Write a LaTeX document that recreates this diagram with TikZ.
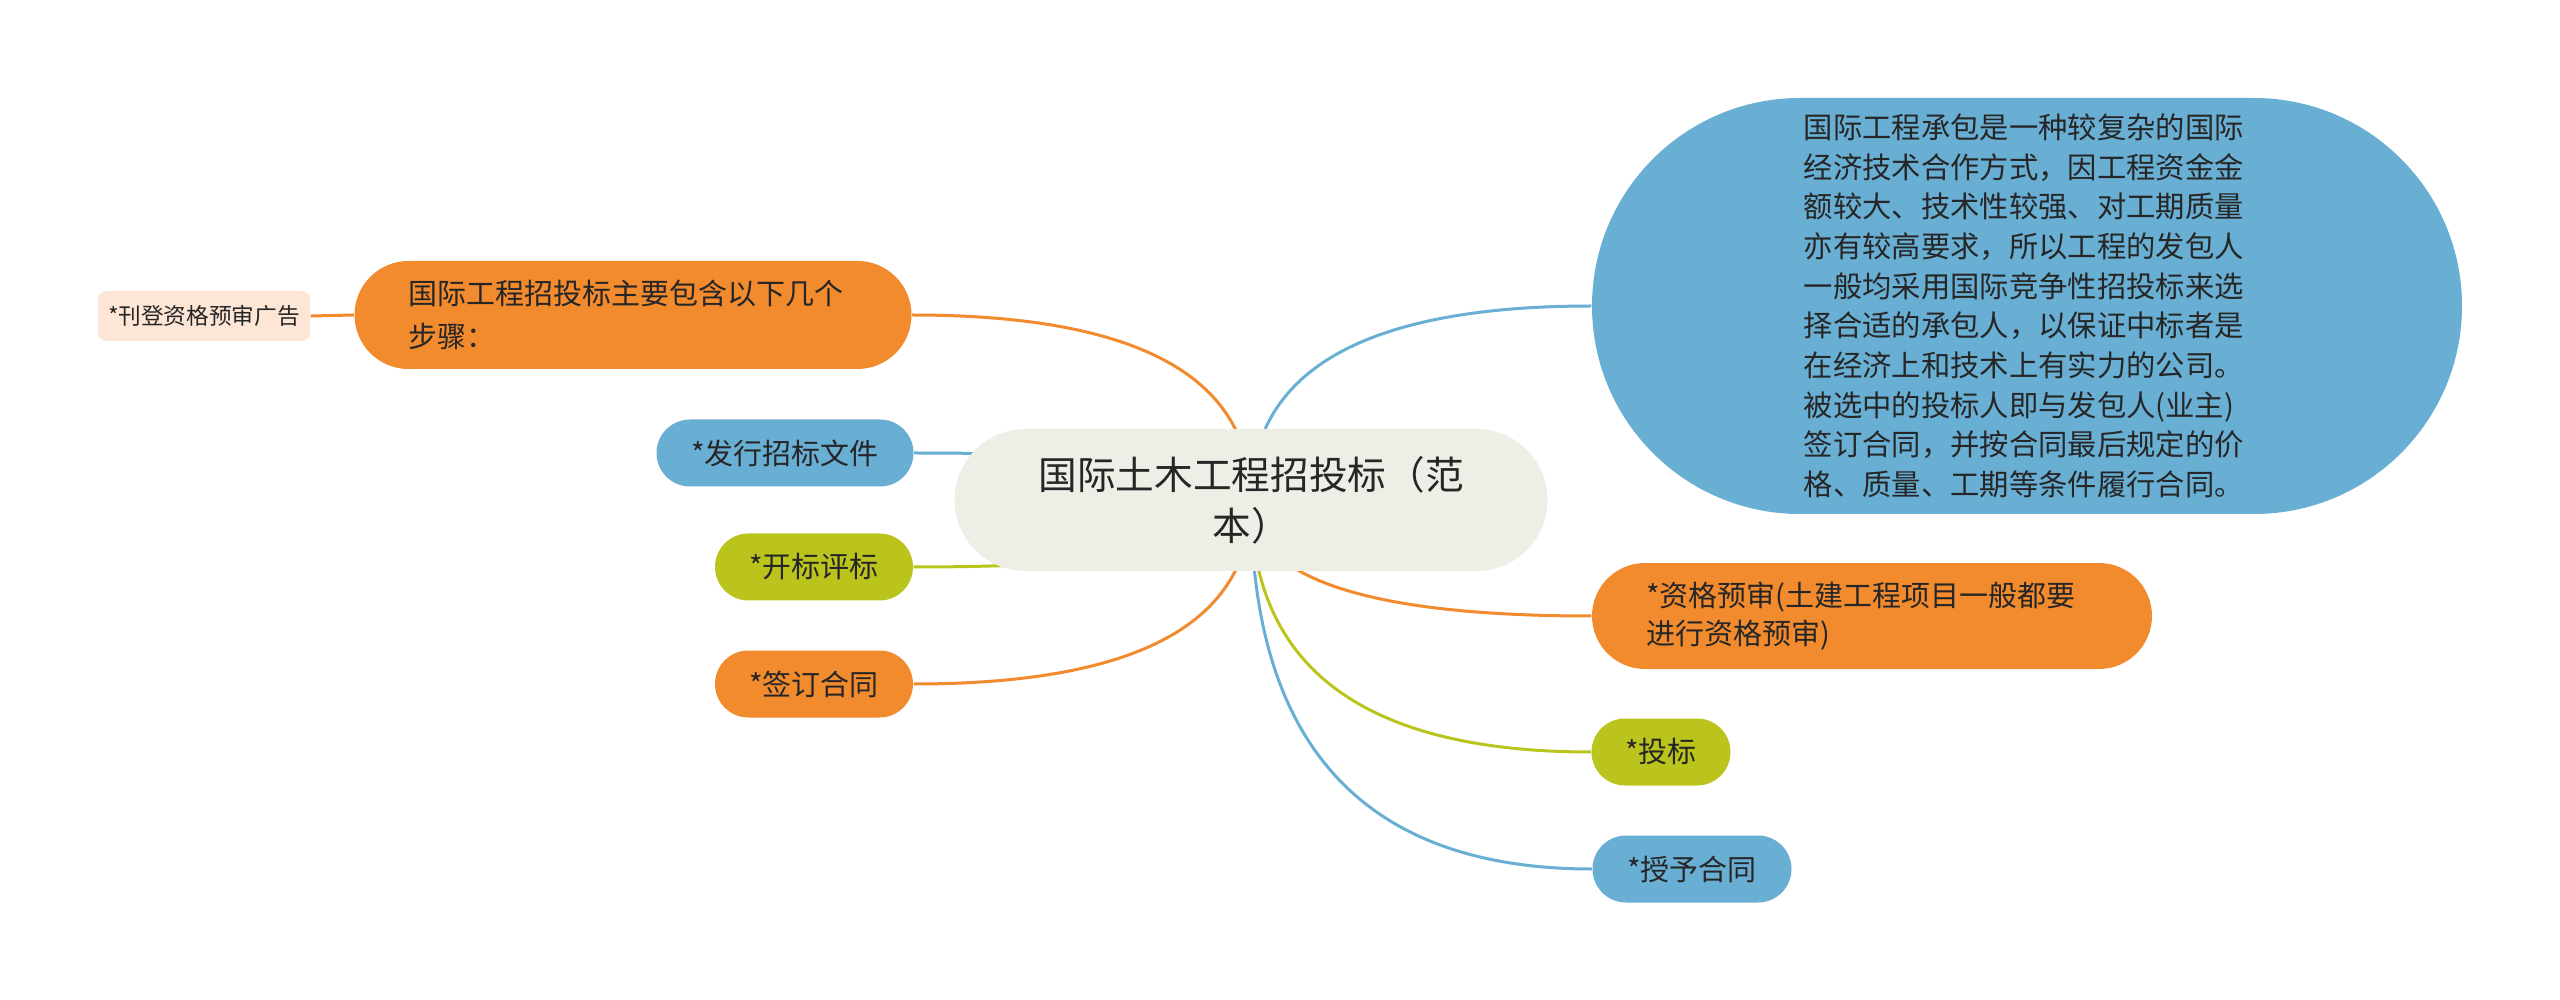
\documentclass[tikz,border=0pt]{standalone}
\usepackage{fontspec}
\setmainfont{Noto Sans CJK SC}
\usetikzlibrary{calc}
\definecolor{corange}{HTML}{F28A2E}
\definecolor{cblue}{HTML}{69AED3}
\definecolor{cgreen}{HTML}{BBC41C}
\definecolor{croot}{HTML}{EEEEE6}
\definecolor{cpeach}{HTML}{FDE6D6}
\definecolor{ctext}{HTML}{262626}
\pgfdeclarelayer{bg}
\pgfsetlayers{bg,main}
\newcommand\mmconn[3]{\draw[conn,#1] (#2) .. controls ($(#2)!0.6667!(#2 |- #3)$) and ($(#3)!0.6667!(#2 |- #3)$) .. (#3);}
\begin{document}
\begin{tikzpicture}[x=0.3pt,y=-0.3pt,
  box/.style={rectangle, inner sep=0pt, text=ctext, font=\fontsize{8.7pt}{12pt}\selectfont},
  kid/.style={box, minimum height=20.1pt, rounded corners=10.05pt},
  conn/.style={line width=0.9pt}
]
\useasboundingbox (0,0) rectangle (2560,1000);

\node[box, fill=croot, minimum width=177.9pt, minimum height=42.6pt, rounded corners=21.3pt,
      align=center, font=\fontsize{11.6pt}{15.2pt}\selectfont] (root) at (1251,500)
  {国际土木工程招投标（范\\本）};

\node[box, fill=cblue, minimum width=261pt, minimum height=124.8pt, rounded corners=62.4pt,
      text width=134pt, align=left, font=\fontsize{8.8pt}{11.9pt}\selectfont] (big) at (2027,306)
  {国际工程承包是一种较复杂的国际\\
   经济技术合作方式，因工程资金金\\
   额较大、技术性较强、对工期质量\\
   亦有较高要求，所以工程的发包人\\
   一般均采用国际竞争性招投标来选\\
   择合适的承包人，以保证中标者是\\
   在经济上和技术上有实力的公司。\\
   被选中的投标人即与发包人(业主)\\
   签订合同，并按合同最后规定的价\\
   格、质量、工期等条件履行合同。};

\node[box, fill=corange, minimum width=167.1pt, minimum height=32.4pt, rounded corners=16.2pt,
      text width=134.7pt, align=left, font=\fontsize{8.7pt}{12.7pt}\selectfont] (lo) at (633,315)
  {国际工程招投标主要包含以下几个\\步骤：};

\node[box, fill=cpeach, minimum width=63.6pt, minimum height=15pt, rounded corners=2.5pt,
      font=\fontsize{6.8pt}{8pt}\selectfont] (kd) at (204,316) {*刊登资格预审广告};

\node[kid, fill=cblue, minimum width=77.1pt] (fx) at (785,453) {*发行招标文件};
\node[kid, fill=cgreen, minimum width=59.4pt] (kb) at (814,567) {*开标评标};
\node[kid, fill=corange, minimum width=59.4pt] (qd) at (814,684) {*签订合同};

\node[box, fill=corange, minimum width=168pt, minimum height=31.8pt, rounded corners=15.9pt,
      text width=135.6pt, align=left, font=\fontsize{8.7pt}{11.3pt}\selectfont] (zg) at (1872,616)
  {*资格预审(土建工程项目一般都要\\进行资格预审)};

\node[kid, fill=cgreen, minimum width=41.7pt] (tb) at (1661,752) {*投标};
\node[kid, fill=cblue, minimum width=59.7pt] (sy) at (1692,869) {*授予合同};

\begin{pgfonlayer}{bg}
  \mmconn{corange}{root.center}{lo.east}
  \mmconn{cblue}{root.center}{fx.east}
  \mmconn{cgreen}{root.center}{kb.east}
  \mmconn{corange}{root.center}{qd.east}
  \mmconn{cblue}{root.center}{big.west}
  \mmconn{corange}{root.center}{zg.west}
  \mmconn{cgreen}{root.center}{tb.west}
  \mmconn{cblue}{root.center}{sy.west}
  \draw[conn, corange] (kd.east) -- (lo.west);
\end{pgfonlayer}
\end{tikzpicture}
\end{document}
